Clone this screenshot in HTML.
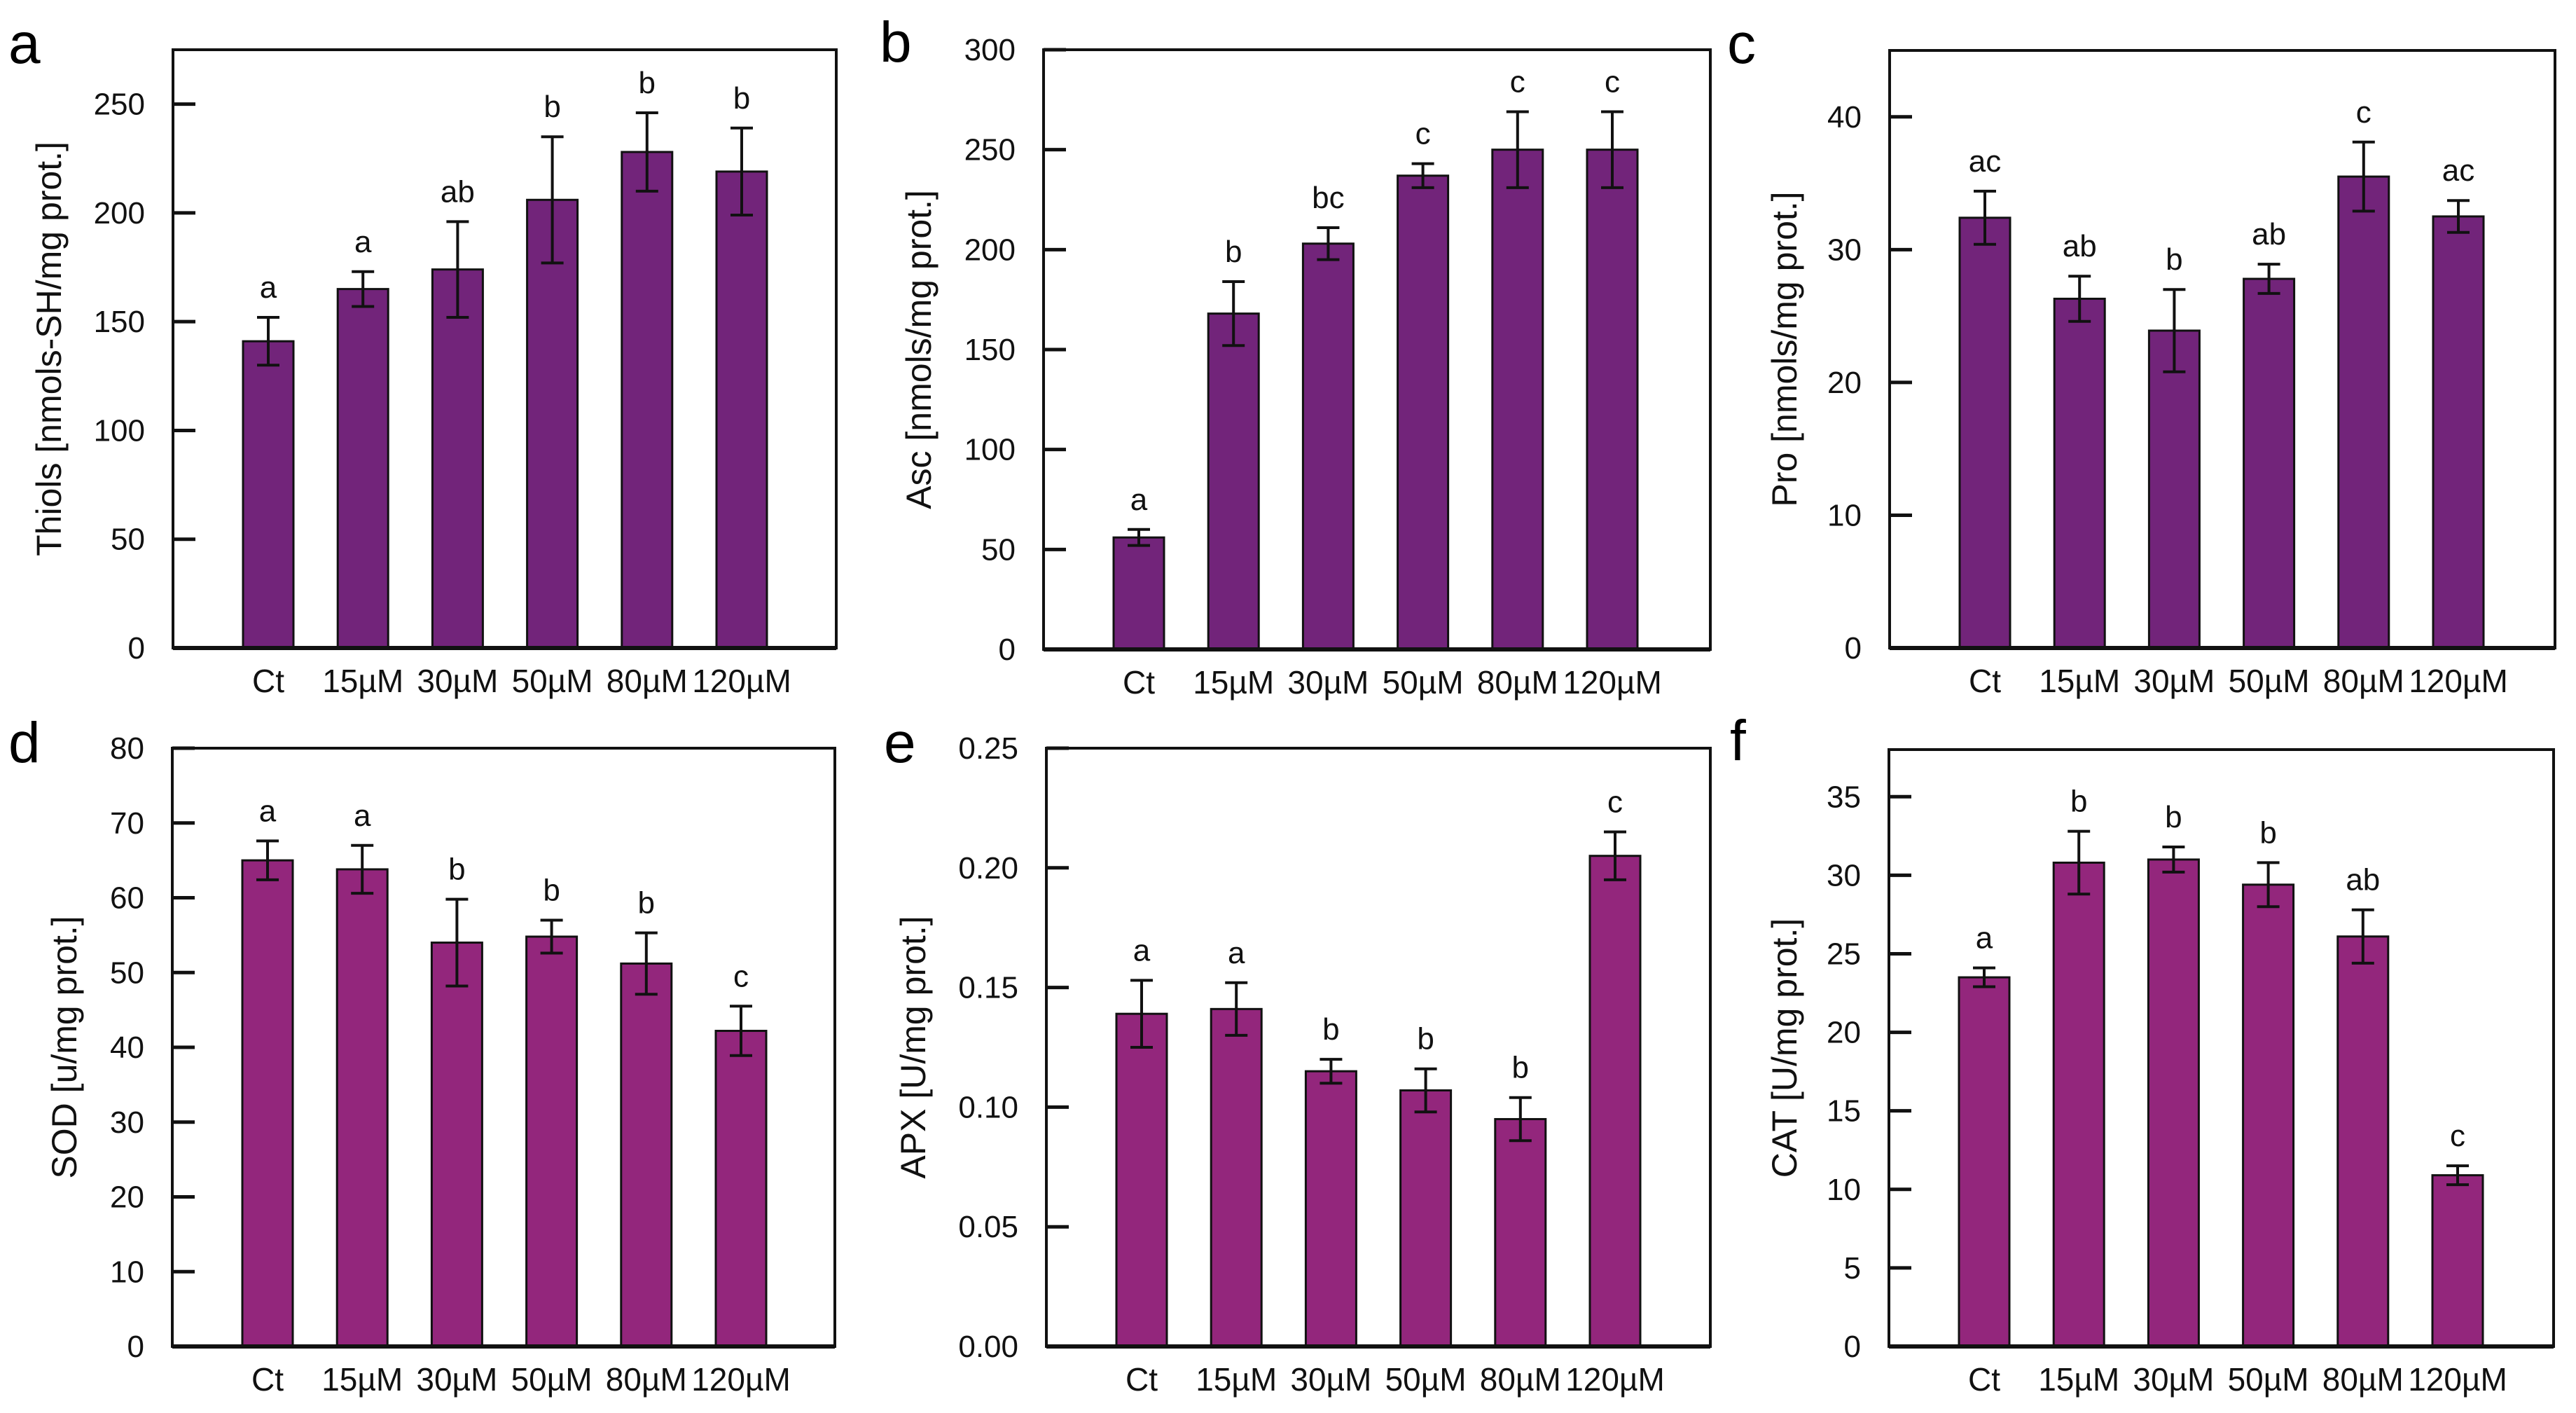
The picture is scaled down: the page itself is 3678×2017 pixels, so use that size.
<!DOCTYPE html>
<html><head><meta charset="utf-8">
<style>
html,body{margin:0;padding:0;background:#fff;}
svg{display:block;font-family:"Liberation Sans",Arial,sans-serif;}
</style></head>
<body>
<svg id="fig" width="3678" height="2017" viewBox="0 0 3678 2017" xmlns="http://www.w3.org/2000/svg"></svg>
<script>
const categories = ["Ct","15\u00b5M","30\u00b5M","50\u00b5M","80\u00b5M","120\u00b5M"];

const thiolsValues = [141,165,174,206,228,219];
const thiolsErrors = [11,8,22,29,18,20];
const thiolsLetters = ["a","a","ab","b","b","b"];
const thiolsTicks = [0,50,100,150,200,250];

const ascValues = [56,168,203,237,250,250];
const ascErrors = [4,16,8,6,19,19];
const ascLetters = ["a","b","bc","c","c","c"];
const ascTicks = [0,50,100,150,200,250,300];

const proValues = [32.4,26.3,23.9,27.8,35.5,32.5];
const proErrors = [2.0,1.7,3.1,1.1,2.6,1.2];
const proLetters = ["ac","ab","b","ab","c","ac"];
const proTicks = [0,10,20,30,40];

const sodValues = [65,63.8,54,54.8,51.2,42.2];
const sodErrors = [2.6,3.2,5.8,2.2,4.1,3.3];
const sodLetters = ["a","a","b","b","b","c"];
const sodTicks = [0,10,20,30,40,50,60,70,80];

const apxValues = [0.139,0.141,0.115,0.107,0.095,0.205];
const apxErrors = [0.014,0.011,0.005,0.009,0.009,0.010];
const apxLetters = ["a","a","b","b","b","c"];
const apxTicks = ["0.00","0.05","0.10","0.15","0.20","0.25"];

const catValues = [23.5,30.8,31.0,29.4,26.1,10.9];
const catErrors = [0.6,2.0,0.8,1.4,1.7,0.6];
const catLetters = ["a","b","b","b","ab","c"];
const catTicks = [0,5,10,15,20,25,30,35];

const NS = "http://www.w3.org/2000/svg";
const svg = document.getElementById("fig");
function mk(tag, attrs, parent){
  const e = document.createElementNS(NS, tag);
  for (const k in attrs) e.setAttribute(k, attrs[k]);
  (parent||svg).appendChild(e);
  return e;
}

function panel(o){
  const g = mk("g", {});
  
  
  const L=o.left, R=o.right, T=o.top, Z=o.zero;
  const y = v => Z - (v - 0) / o.ymax * (Z - T);
  const x = i => L + 136 + i * 135.2;
  // panel letter
  const pl = mk("text", {x:o.lx, y:o.ly, "font-size":82, fill:"#000"}, g);
  pl.textContent = o.letter;
  
  
  // bars
  o.values.forEach((v,i)=>{
    const b = mk("rect", {x:x(i)-36, y:y(v), width:72, height:Z-y(v), fill:o.color, stroke:"#111", "stroke-width":3}, g);
    
    
    const e = o.errors[i];
    const eb = mk("path", {d:`M${x(i)},${y(v+e)}V${y(v-e)}M${x(i)-16},${y(v+e)}H${x(i)+16}M${x(i)-16},${y(v-e)}H${x(i)+16}`, stroke:"#111", "stroke-width":4, fill:"none"}, g);
    
    
    const lt = mk("text", {x:x(i), y:y(v+e)-28, "font-size":44, "text-anchor":"middle", fill:"#111"}, g);
    lt.textContent = o.letters[i];
    
    
    const xl = mk("text", {x:x(i), y:Z+63, "font-size":46, "text-anchor":"middle", fill:"#111"}, g);
    xl.textContent = categories[i];
    
    
  });
  // ticks
  o.ticks.forEach(t=>{
    const v = parseFloat(t);
    const tk = mk("line", {x1:L, x2:L+32, y1:y(v), y2:y(v), stroke:"#111", "stroke-width":5}, g);
    
    
    const tl = mk("text", {x:L-40, y:y(v)+15, "font-size":44, "text-anchor":"end", fill:"#111"}, g);
    tl.textContent = String(t);
    
    
  });
  // frame
  const fr = mk("rect", {x:L, y:T, width:R-L, height:Z-T, fill:"none", stroke:"#111", "stroke-width":4}, g);
  
  
  const xa = mk("line", {x1:L, x2:R, y1:Z, y2:Z, stroke:"#111", "stroke-width":6}, g);
  
  
  // title
  const cy = (T+Z)/2;
  const tt = mk("text", {x:o.tx, y:cy, "font-size":50, "text-anchor":"middle", "dominant-baseline":"middle", fill:"#111", transform:`rotate(-90 ${o.tx} ${cy})`}, g);
  tt.textContent = o.title;
  
  
}

const C1 = "#72247a", C2 = "#93267c";
panel({letter:"a", left:247, right:1194, top:71, zero:925, ymax:275, values:thiolsValues, errors:thiolsErrors, letters:thiolsLetters, ticks:thiolsTicks, color:C1, title:"Thiols [nmols-SH/mg prot.]", tx:74, lx:12, ly:90});
panel({letter:"b", left:1490, right:2442, top:71, zero:927, ymax:300, values:ascValues, errors:ascErrors, letters:ascLetters, ticks:ascTicks, color:C1, title:"Asc [nmols/mg prot.]", tx:1316, lx:1256, ly:88});
panel({letter:"c", left:2698, right:3648, top:72, zero:925, ymax:45, values:proValues, errors:proErrors, letters:proLetters, ticks:proTicks, color:C1, title:"Pro [nmols/mg prot.]", tx:2552, lx:2466, ly:90});
panel({letter:"d", left:246, right:1192, top:1068, zero:1922, ymax:80, values:sodValues, errors:sodErrors, letters:sodLetters, ticks:sodTicks, color:C2, title:"SOD [u/mg prot.]", tx:96, lx:12, ly:1088});
panel({letter:"e", left:1494, right:2442, top:1068, zero:1922, ymax:0.25, values:apxValues, errors:apxErrors, letters:apxLetters, ticks:apxTicks, color:C2, title:"APX [U/mg prot.]", tx:1308, lx:1262, ly:1088});
panel({letter:"f", left:2697, right:3646, top:1070, zero:1922, ymax:38, values:catValues, errors:catErrors, letters:catLetters, ticks:catTicks, color:C2, title:"CAT [U/mg prot.]", tx:2552, lx:2470, ly:1085});
</script>
</body></html>
